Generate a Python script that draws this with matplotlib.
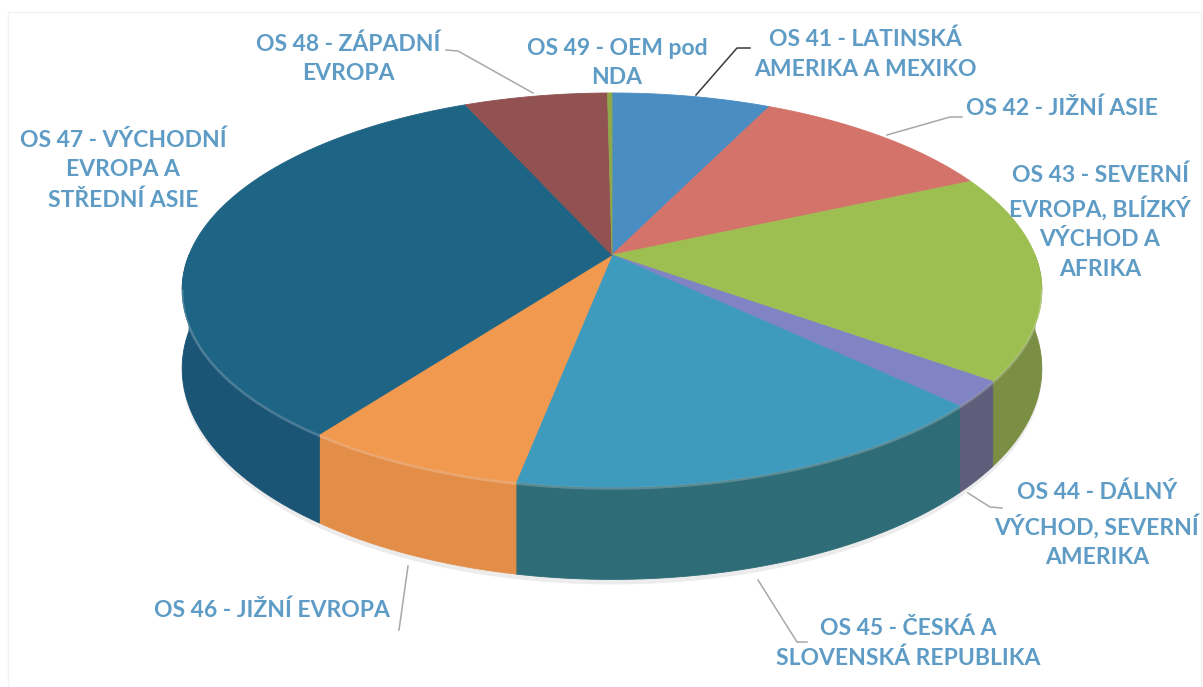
"""
3D-look pie of sales by OS region (rebuilt from a scanned chart).
Perspective ellipse is drawn by hand in pixel coordinates; slices come from SHARES.
"""

import numpy as np
import matplotlib

matplotlib.use("Agg")
import matplotlib.pyplot as plt

# --- data (clockwise from 12 o'clock) ---------------------------------------
LABELS = [
    "OS 41 - LATINSKÁ\nAMERIKA A MEXIKO",
    "OS 42 - JIŽNÍ ASIE",
    "OS 43 - SEVERNÍ\nEVROPA, BLÍZKÝ\nVÝCHOD A\nAFRIKA",
    "OS 44 - DÁLNÝ\nVÝCHOD, SEVERNÍ\nAMERIKA",
    "OS 45 - ČESKÁ A\nSLOVENSKÁ REPUBLIKA",
    "OS 46 - JIŽNÍ EVROPA",
    "OS 47 - VÝCHODNÍ\nEVROPA A\nSTŘEDNÍ ASIE",
    "OS 48 - ZÁPADNÍ\nEVROPA",
    "OS 49 - OEM pod\nNDA",
]
SHARES = [7.1, 11.1, 16.9, 2.1, 15.8, 7.1, 33.3, 6.4, 0.2]
COLORS = ["#4A8DC2", "#D4736A", "#9DBF52", "#8084C4", "#3E9BBD",
          "#F0994F", "#1E6485", "#925252", "#8FA84A"]
# darker tones seen on the visible rim (only front slices need them)
SIDE_COLORS = ["#3A6E98", "#A85A54", "#7A8E44", "#5E5E7A", "#2E6C78",
               "#E38E48", "#1A5576", "#723F3F", "#6E8238"]

# label anchor (centre of text block) and leader polyline, in pixels
LABEL_POS = [(865, 54), (1062, 108), (1100, 222), (1097, 525), (908, 643),
             (272, 610), (123, 170), (348, 59), (617, 63)]
LEADERS = [
    [(696, 95), (737, 48), (750, 48)],
    [(887, 135), (950, 117), (962, 117)],
    None,
    [(968, 493), (990, 507), (1002, 508)],
    [(758, 580), (797, 642), (807, 642)],
    [(408, 566), (399, 630)],
    None,
    [(446, 50), (458, 51), (533, 93)],
    None,
]
LEADER_COLORS = ["#3A3A3A"] + ["#A8A8A8"] * 8

# --- geometry of the perspective disc ---------------------------------------
W, H = 1203, 687
CX, CY = 612, 255      # projected centre (apex of the slices)
A, B = 423, 190.8      # horizontal / vertical radius scale
KAPPA = 0.1776         # perspective strength (front looks bigger)
DEPTH = 76             # thickness of the disc
TEXT_COLOR = "#5E9CC6"


def rim(theta_deg):
    t = np.deg2rad(theta_deg)
    w = 1 + KAPPA * np.cos(t)
    x = CX + A * np.sin(t) / w
    y = CY - B * np.cos(t) / w
    return x, y, DEPTH / w


def main():
    fig = plt.figure(figsize=(W / 100, H / 100), dpi=100)
    ax = fig.add_axes([0, 0, 1, 1])
    ax.set_xlim(0, W)
    ax.set_ylim(H, 0)
    ax.axis("off")

    # faint frame of the original chart area
    ax.add_patch(plt.Rectangle((8, 12), W - 10, H - 10, fill=False,
                               ec="#F2F2F2", lw=1))

    total = float(sum(SHARES))
    bounds = np.concatenate([[0], np.cumsum(SHARES) / total * 360.0])

    # soft shadow under the disc
    th = np.linspace(90, 270, 200)
    x, y, d = rim(th)
    ax.fill(np.r_[x, x[::-1]], np.r_[y + d + 5, (y + d)[::-1] - 2],
            color="#ECECEC", lw=0, zorder=0)

    # side walls (front half only)
    for i, sc in enumerate(SIDE_COLORS):
        a0, a1 = max(bounds[i], 90), min(bounds[i + 1], 270)
        if a1 <= a0:
            continue
        th = np.linspace(a0, a1, 120)
        x, y, d = rim(th)
        ax.fill(np.r_[x, x[::-1]], np.r_[y, (y + d)[::-1]],
                color=sc, lw=0.6, ec=sc, zorder=1)

    # top faces
    for i, c in enumerate(COLORS):
        th = np.linspace(bounds[i], bounds[i + 1], 200)
        x, y, _ = rim(th)
        ax.fill(np.r_[CX, x], np.r_[CY, y], color=c, lw=0.6, ec=c, zorder=2)

    # bevel highlight along the front edge
    th = np.linspace(100, 260, 300)
    x, y, _ = rim(th)
    ax.plot(x, y + 1.5, color="white", alpha=0.22, lw=1.8, zorder=3)

    # labels + leaders
    for lab, (lx, ly), lead, lc in zip(LABELS, LABEL_POS, LEADERS, LEADER_COLORS):
        ax.text(lx, ly, lab, ha="center", va="center", color=TEXT_COLOR,
                fontsize=16.5, fontweight="bold", family=["Lato", "DejaVu Sans"],
                linespacing=1.5, zorder=5)
        if lead:
            px, py = zip(*lead)
            ax.plot(px, py, color=lc, lw=1.1, zorder=4)

    fig.savefig("out.png", dpi=100)
    plt.close(fig)


if __name__ == "__main__":
    main()
